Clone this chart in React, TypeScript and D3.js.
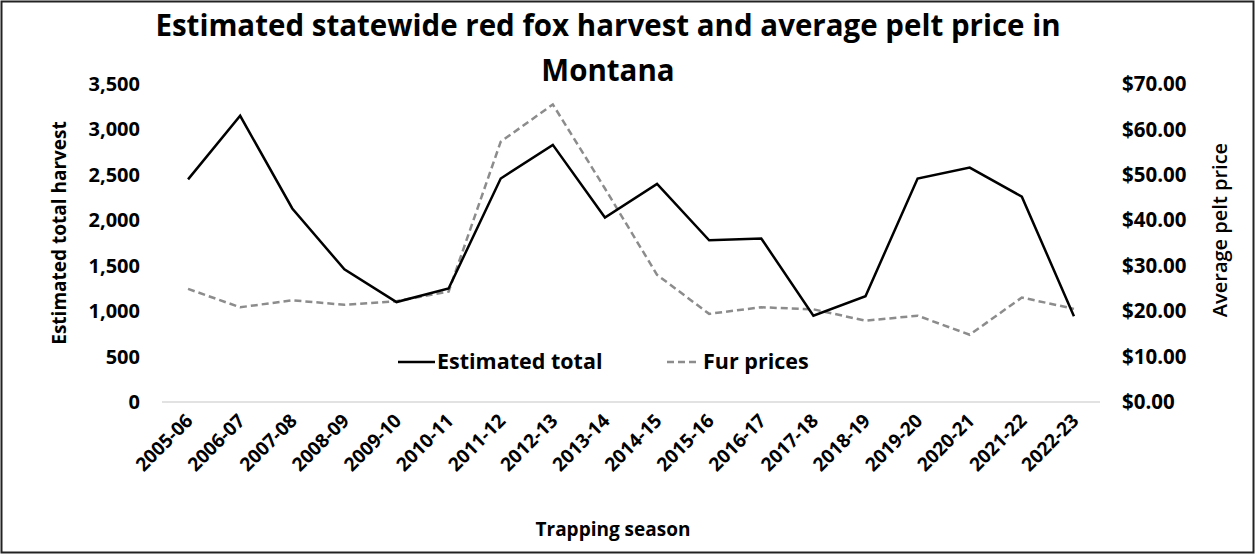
import * as d3 from "d3"

const seasons = [
  "2005-06", "2006-07", "2007-08", "2008-09", "2009-10", "2010-11",
  "2011-12", "2012-13", "2013-14", "2014-15", "2015-16", "2016-17",
  "2017-18", "2018-19", "2019-20", "2020-21", "2021-22", "2022-23",
]
const harvest = [
  2450, 3150, 2130, 1460, 1100, 1250, 2460, 2830, 2030,
  2400, 1780, 1800, 950, 1165, 2460, 2580, 2260, 945,
]
const furPrices = [
  24.9, 20.85, 22.4, 21.4, 22.2, 24.3, 57.3, 65.5, 47.0,
  28.0, 19.4, 20.85, 20.4, 17.9, 19.0, 14.8, 23.0, 20.5,
]
const harvestTicks = [0, 500, 1000, 1500, 2000, 2500, 3000, 3500]
const priceTicks = [0, 10, 20, 30, 40, 50, 60, 70]

const W = 1255
const H = 554
const PLOT = { left: 162, right: 1100, top: 84, bottom: 402 }
const FONT = "'Open Sans', Lato, sans-serif"

export default function App() {
  const x = d3
    .scaleBand<string>()
    .domain(seasons)
    .range([PLOT.left, PLOT.right])
  const cx = (s: string) => (x(s) ?? 0) + x.bandwidth() / 2

  const yHarvest = d3.scaleLinear().domain([0, 3500]).range([PLOT.bottom, PLOT.top])
  const yPrice = d3.scaleLinear().domain([0, 70]).range([PLOT.bottom, PLOT.top])

  const harvestLine = d3
    .line<number>()
    .x((_, i) => cx(seasons[i]))
    .y((d) => yHarvest(d))
  const priceLine = d3
    .line<number>()
    .x((_, i) => cx(seasons[i]))
    .y((d) => yPrice(d))

  const fmtHarvest = d3.format(",")
  const fmtPrice = (v: number) => "$" + d3.format(".2f")(v)

  return (
    <svg
      width={W}
      height={H}
      style={{ position: "absolute", left: 0, top: 0, background: "#fff" }}
      fontFamily={FONT}
    >
      <rect x={1.5} y={1.5} width={W - 3} height={H - 3} fill="#fff" stroke="#222" strokeWidth={2} />

      {/* title */}
      <text x={608} y={36} textAnchor="middle" fontSize={29.5} fontWeight={700} fill="#000">
        Estimated statewide red fox harvest and average pelt price in
      </text>
      <text x={608} y={81} textAnchor="middle" fontSize={29.5} fontWeight={700} fill="#000">
        Montana
      </text>

      {/* baseline */}
      <line
        x1={PLOT.left}
        x2={PLOT.right}
        y1={yHarvest(0)}
        y2={yHarvest(0)}
        stroke="#d9d9d9"
        strokeWidth={1.5}
      />

      {/* left axis */}
      {harvestTicks.map((t) => (
        <text
          key={"l" + t}
          x={140}
          y={yHarvest(t)}
          dy="0.35em"
          textAnchor="end"
          fontSize={20}
          fontWeight={700}
          fill="#000"
        >
          {fmtHarvest(t)}
        </text>
      ))}
      <text
        transform={`translate(66,${(PLOT.top + PLOT.bottom) / 2 - 10}) rotate(-90)`}
        textAnchor="middle"
        fontSize={19}
        fontWeight={700}
        fill="#000"
      >
        Estimated total harvest
      </text>

      {/* right axis */}
      {priceTicks.map((t) => (
        <text
          key={"r" + t}
          x={1122}
          y={yPrice(t)}
          dy="0.35em"
          textAnchor="start"
          fontSize={20.5}
          fontWeight={700}
          fill="#000"
        >
          {fmtPrice(t)}
        </text>
      ))}
      <text
        transform={`translate(1227,${(PLOT.top + PLOT.bottom) / 2 - 13}) rotate(-90)`}
        textAnchor="middle"
        fontSize={20}
        fontWeight={600}
        fill="#000"
      >
        Average pelt price
      </text>

      {/* x axis labels */}
      {seasons.map((s) => (
        <text
          key={s}
          transform={`translate(${cx(s) + 6},${PLOT.bottom + 20}) rotate(-45)`}
          textAnchor="end"
          fontSize={19}
          fontWeight={700}
          fill="#000"
        >
          {s}
        </text>
      ))}
      <text x={613} y={536} textAnchor="middle" fontSize={19} fontWeight={700} fill="#000">
        Trapping season
      </text>

      {/* series */}
      <path
        d={priceLine(furPrices) ?? ""}
        fill="none"
        stroke="#8c8c8c"
        strokeWidth={2.5}
        strokeDasharray="7,4"
      />
      <path d={harvestLine(harvest) ?? ""} fill="none" stroke="#000" strokeWidth={2.5} />

      {/* legend */}
      <line x1={398} x2={435} y1={362} y2={362} stroke="#000" strokeWidth={2.5} />
      <text x={437} y={369} fontSize={21.5} fontWeight={700} fill="#000">
        Estimated total
      </text>
      <line
        x1={667}
        x2={696}
        y1={362}
        y2={362}
        stroke="#8c8c8c"
        strokeWidth={2.5}
        strokeDasharray="7,4"
      />
      <text x={703} y={369} fontSize={21.5} fontWeight={700} fill="#000">
        Fur prices
      </text>
    </svg>
  )
}
